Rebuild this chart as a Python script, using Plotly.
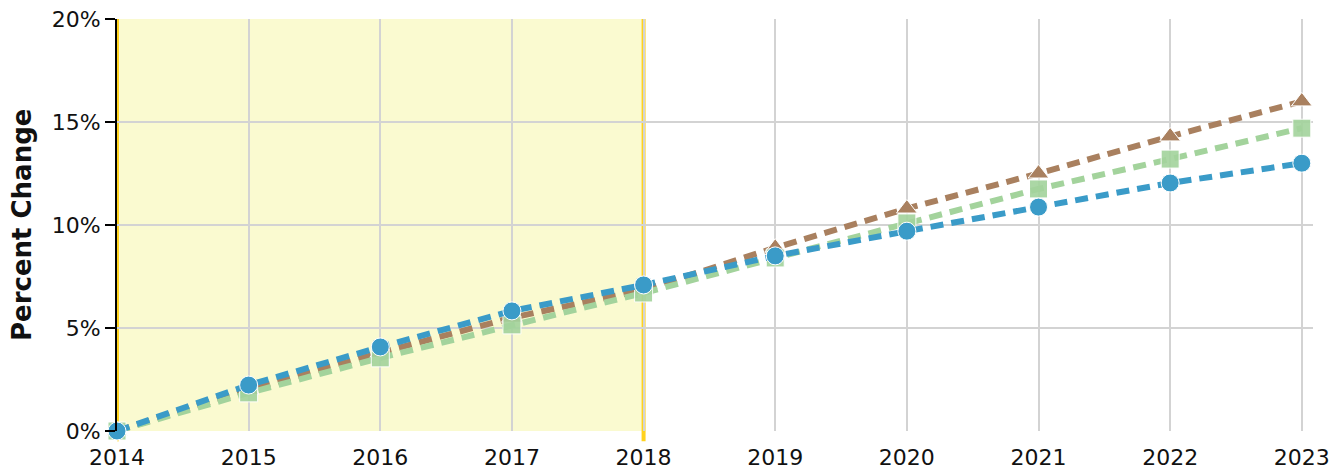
import plotly.graph_objects as go

years = [2014, 2015, 2016, 2017, 2018, 2019, 2020, 2021, 2022, 2023]
series_a = [0, 2.0, 3.8, 5.5, 6.85, 8.9, 10.8, 12.5, 14.3, 16.0]   # triangles (brown)
series_b = [0, 1.85, 3.55, 5.15, 6.7, 8.4, 10.1, 11.75, 13.2, 14.7]  # squares (green)
series_c = [0, 2.23, 4.08, 5.83, 7.09, 8.5, 9.7, 10.87, 12.04, 13.0]  # circles (blue)
y_ticks = [0, 5, 10, 15, 20]
y_tick_labels = ["0%", "5%", "10%", "15%", "20%"]
shade_start, shade_end = 2014, 2018

fig = go.Figure()

styles = [
    (series_a, "#A9805F", "triangle-up", 1.0),
    (series_b, "#A3D39C", "square", 0.9),
    (series_c, "#3A9BC8", "circle", 1.0),
]
for vals, col, sym, op in styles:
    fig.add_trace(go.Scatter(
        x=years, y=vals, mode="lines+markers",
        line=dict(color=col, width=6, dash="13px,8px"),
        marker=dict(symbol=sym, size=18, color=col, opacity=op,
                    line=dict(color="white", width=1)),
        cliponaxis=False, showlegend=False,
    ))

fig.add_shape(type="rect", xref="x", yref="paper", x0=shade_start, x1=shade_end,
              y0=0, y1=1, fillcolor="#FAFAD0", line=dict(width=0), layer="below")
for xv in (shade_start, shade_end):
    fig.add_shape(type="line", xref="x", yref="paper", x0=xv, x1=xv,
                  y0=-0.025, y1=1, line=dict(color="#FFD21F", width=4), layer="below")

fig.add_annotation(text="<b>Percent Change</b>", xref="paper", yref="paper",
                   x=-0.0794, y=0.5, xanchor="center", yanchor="middle",
                   textangle=-90, showarrow=False,
                   font=dict(family="DejaVu Sans", size=26, color="#111111"))

fig.update_layout(
    width=1335, height=466,
    margin=dict(l=109, r=30, t=11, b=43, autoexpand=False),
    plot_bgcolor="white", paper_bgcolor="white",
    font=dict(family="DejaVu Sans", size=22, color="#111111"),
)
fig.update_xaxes(
    range=[2014, 2023.085], tickmode="array", tickvals=years,
    ticktext=[str(y) for y in years], automargin=False,
    ticklabeloverflow="allow",
    showgrid=True, gridcolor="#D3D3D3", gridwidth=2,
    zeroline=False, showline=False,
    ticks="outside", ticklen=7, tickcolor="rgba(0,0,0,0)",
)
fig.update_yaxes(
    range=[0, 20], tickmode="array", tickvals=y_ticks, ticktext=y_tick_labels,
    automargin=False, ticklabeloverflow="allow",
    showgrid=True, gridcolor="#D3D3D3", gridwidth=2,
    zeroline=False, showline=True, linecolor="black", linewidth=2,
    ticks="outside", ticklen=10, tickcolor="black", tickwidth=2,
)

fig.write_html("out.html")
